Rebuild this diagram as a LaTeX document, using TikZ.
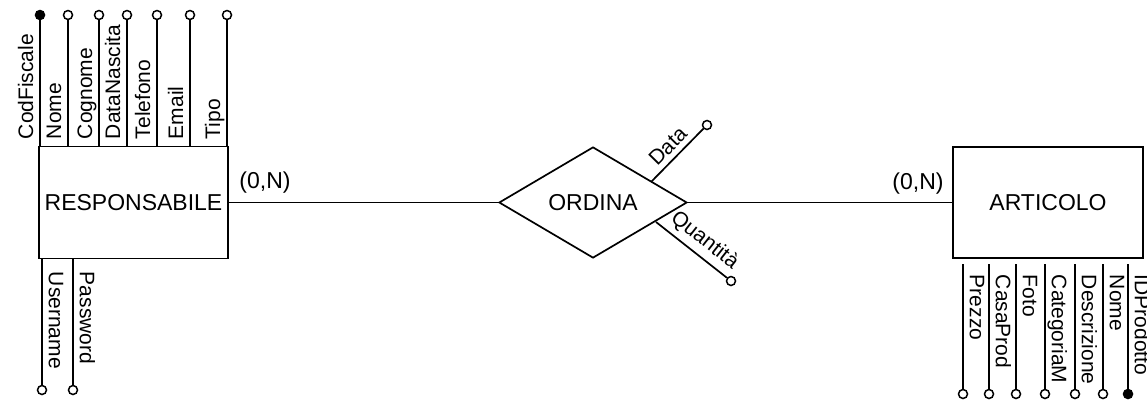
\documentclass[tikz,border=0pt]{standalone}
\usepackage{fontspec}
\setmainfont{Liberation Sans}
\usetikzlibrary{shapes.geometric}
\begin{document}
\begin{tikzpicture}[x=1pt,y=-1pt, line width=1.7pt,
  txt/.style={font=\fontsize{21}{25}\selectfont},
  big/.style={font=\fontsize{23}{27}\selectfont},
  ent/.style={draw, rectangle, minimum width=189pt, minimum height=112pt, inner sep=0pt, big},
  rel/.style={draw, diamond, minimum width=188pt, minimum height=111pt, inner sep=0pt, big},
  attr/.style={circle, draw, fill=white, inner sep=0pt, minimum size=9pt, line width=1.5pt},
  keyattr/.style={attr, fill=black},
  lblup/.style={rotate=90, anchor=south west, inner sep=0pt, text depth=4pt, txt},
  lbldn/.style={rotate=-90, anchor=south west, inner sep=0pt, text depth=4pt, txt},
  lbl/.style={big, inner sep=2pt},
  rlbl/.style={txt, inner sep=5pt}]
\useasboundingbox (0,0) rectangle (1147,400);

% entities and relationship
\node[ent] (resp) at (133.5,202.5) {RESPONSABILE};
\node[ent, minimum width=190pt, minimum height=111pt] (art) at (1048,202.5) {ARTICOLO};
\node[rel] (ord) at (593,202.5) {ORDINA};

\draw (resp.east) -- (ord.west);
\draw (ord.east) -- (art.west);
\node[lbl] (c1) at (265,183) {(0,N)};
\node[lbl] (c2) at (918,184) {(0,N)};

% RESPONSABILE top attributes
\foreach \n/\x/\s/\t in {r1/40/keyattr/CodFiscale, r2/68/attr/Nome, r3/99/attr/Cognome, r4/127/attr/DataNascita, r5/157/attr/Telefono, r6/190/attr/Email, r7/227/attr/Tipo}{
  \node[\s] (\n) at (\x,15) {};
  \draw (\n) -- (\n |- resp.north);
  \node[lblup] (\n l) at (\x-2,140) {\t};
}

% RESPONSABILE bottom attributes
\foreach \n/\x/\t in {b1/42/Username, b2/73/Password}{
  \node[attr] (\n) at (\x,390) {};
  \draw (\n) -- (\n |- resp.south);
  \node[lbldn] (\n l) at (\x+2,271) {\t};
}

% ARTICOLO bottom attributes
\foreach \n/\x/\s/\t in {p1/963/attr/Prezzo, p2/989/attr/CasaProd, p3/1016/attr/Foto, p4/1045/attr/CategoriaM, p5/1075/attr/Descrizione, p6/1103/attr/Nome, p7/1128/keyattr/IDProdotto}{
  \node[\s] (\n) at (\x,394) {};
  \draw[shorten >=5pt] (\n) -- (\n |- art.south);
  \node[lbldn] (\n l) at (\x+2,274) {\t};
}

% relationship attributes
\coordinate (dA) at (651,182);
\node[attr] (dC) at (707,125) {};
\draw (dA) -- (dC) node[midway, sloped, above, rlbl] (dL) {Data};
\coordinate (qA) at (656,222);
\node[attr] (qC) at (731,281) {};
\draw (qA) -- (qC) node[pos=0.55, sloped, above, rlbl] (qL) {Quantità};
\end{tikzpicture}
\end{document}
